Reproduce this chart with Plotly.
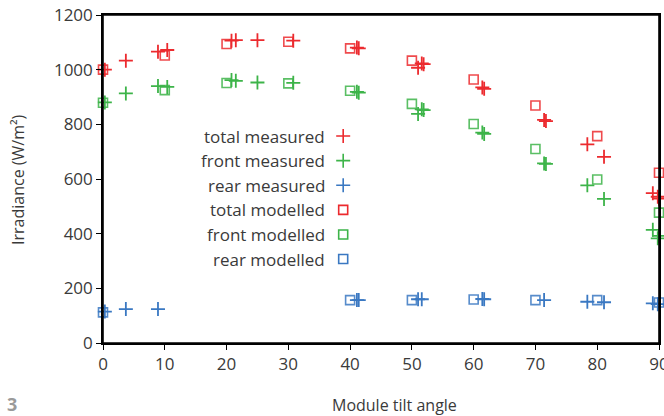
import plotly.graph_objects as go

# ---- data ----
tilt_modelled = [0, 10, 20, 30, 40, 50, 60, 70, 80, 90]
total_modelled = [1000, 1052, 1094, 1102, 1078, 1033, 964, 869, 757, 623]
front_modelled = [879, 925, 951, 950, 923, 875, 801, 710, 598, 477]

tilt_rear_modelled = [0, 40, 50, 60, 70, 80, 90]
rear_modelled = [112, 157, 157, 159, 157, 157, 148]

tilt_measured = [0.3, 3.7, 8.9, 10.4, 20.8, 21.5, 25.0, 30.8, 41.1, 41.4, 51.0, 51.6, 51.9,
                 61.4, 61.7, 71.4, 71.7, 78.4, 81.1, 89.0, 89.8, 90.0]
total_measured = [1000, 1033, 1066, 1072, 1106, 1108, 1108, 1106, 1081, 1078, 1007, 1023, 1020,
                  935, 930, 816, 812, 727, 681, 548, 535, 528]
front_measured = [880, 913, 940, 937, 962, 959, 953, 952, 919, 916, 838, 855, 852,
                  770, 765, 657, 655, 577, 527, 414, 383, 392]
rear_measured = [115, 124, 124, None, None, None, None, None, 157, 157, 160, 160, None,
                 161, 160, 157, None, 151, 149, 145, 142, None]

legend_labels = ["total measured", "front measured", "rear measured",
                 "total modelled", "front modelled", "rear modelled"]

RED = "#ec2a2e"
GREEN = "#3db449"
BLUE = "#3a78c2"
legend_colors = [RED, GREEN, BLUE, RED, GREEN, BLUE]
legend_symbols = ["cross-thin-open"] * 3 + ["square-open"] * 3

FONT = "Open Sans"
TEXT = "#3a3a3a"

PLUS_SIZE = 10
SQ_SIZE = 9

fig = go.Figure()

def add_modelled(x, y, color):
    fig.add_trace(go.Scatter(x=x, y=y, mode="markers", cliponaxis=False, showlegend=False,
                             marker=dict(symbol="square-open", size=SQ_SIZE, color=color,
                                         opacity=0.85, line=dict(color=color, width=1.6))))

def add_measured(x, y, color):
    fig.add_trace(go.Scatter(x=x, y=y, mode="markers", cliponaxis=False, showlegend=False,
                             marker=dict(symbol="cross-thin-open", size=PLUS_SIZE, color=color,
                                         line=dict(color=color, width=1.8))))

add_modelled(tilt_modelled, total_modelled, RED)
add_modelled(tilt_modelled, front_modelled, GREEN)
add_modelled(tilt_rear_modelled, rear_modelled, BLUE)
add_measured(tilt_measured, total_measured, RED)
add_measured(tilt_measured, front_measured, GREEN)
add_measured(tilt_measured, rear_measured, BLUE)

# ---- custom legend (text on left, symbol on right) ----
legend_top = 0.631
legend_step = 0.075
legend_sym_x = 0.432
legend_text_x = 0.402
legend_y = [legend_top - i * legend_step for i in range(len(legend_labels))]

for lab, col, sym, yy in zip(legend_labels, legend_colors, legend_symbols, legend_y):
    fig.add_trace(go.Scatter(x=[legend_sym_x], y=[yy], xaxis="x2", yaxis="y2", mode="markers",
                             showlegend=False, cliponaxis=False,
                             marker=dict(symbol=sym, size=PLUS_SIZE if "cross" in sym else SQ_SIZE,
                                         color=col, line=dict(color=col, width=1.6))))
    fig.add_annotation(text=lab, x=legend_text_x, y=yy, xref="paper", yref="paper",
                       xanchor="right", yanchor="middle", showarrow=False,
                       font=dict(family=FONT, size=17, color=TEXT))

fig.add_annotation(text="Irradiance (W/m²)", x=-0.153, y=0.5, xref="paper", yref="paper",
                   textangle=-90, showarrow=False, xanchor="center", yanchor="middle",
                   font=dict(family=FONT, size=16, color=TEXT))
fig.add_annotation(text="Module tilt angle", x=0.525, y=-0.189, xref="paper", yref="paper",
                   showarrow=False, xanchor="center", yanchor="middle",
                   font=dict(family=FONT, size=16, color=TEXT))
fig.add_annotation(text="<b>3</b>", x=-0.164, y=-0.186, xref="paper", yref="paper",
                   showarrow=False, xanchor="center", yanchor="middle",
                   font=dict(family=FONT, size=18, color="#9a9a9a"))

# plot frame
fig.add_shape(type="rect", xref="paper", yref="paper", x0=0, y0=0, x1=1, y1=1,
              line=dict(color="black", width=1.6), layer="above")

fig.update_layout(
    width=664, height=416,
    margin=dict(l=103, r=5, t=15, b=73, autoexpand=False),
    paper_bgcolor="white", plot_bgcolor="white",
    font=dict(family=FONT, size=17, color=TEXT),
    xaxis=dict(range=[0, 90], tickvals=list(range(0, 91, 10)), showgrid=False, zeroline=False,
               showline=True, linecolor="black", linewidth=1.6, mirror=True,
               ticks="outside", ticklen=5, tickwidth=1.3, tickcolor="black",
               ticklabeloverflow="allow", automargin=False,
               tickfont=dict(family=FONT, size=17, color=TEXT)),
    yaxis=dict(range=[0, 1200], tickvals=list(range(0, 1201, 200)), showgrid=False, zeroline=False,
               showline=True, linecolor="black", linewidth=1.6, mirror=True,
               ticks="outside", ticklen=5, tickwidth=1.3, tickcolor="black",
               ticklabeloverflow="allow", automargin=False,
               tickfont=dict(family=FONT, size=17, color=TEXT)),
    xaxis2=dict(range=[0, 1], overlaying="x", visible=False, domain=[0, 1]),
    yaxis2=dict(range=[0, 1], overlaying="y", visible=False, domain=[0, 1]),
)

fig.write_html("out.html", config={"displayModeBar": False},
               post_script="document.body.style.margin='0';document.body.style.overflow='hidden';")
